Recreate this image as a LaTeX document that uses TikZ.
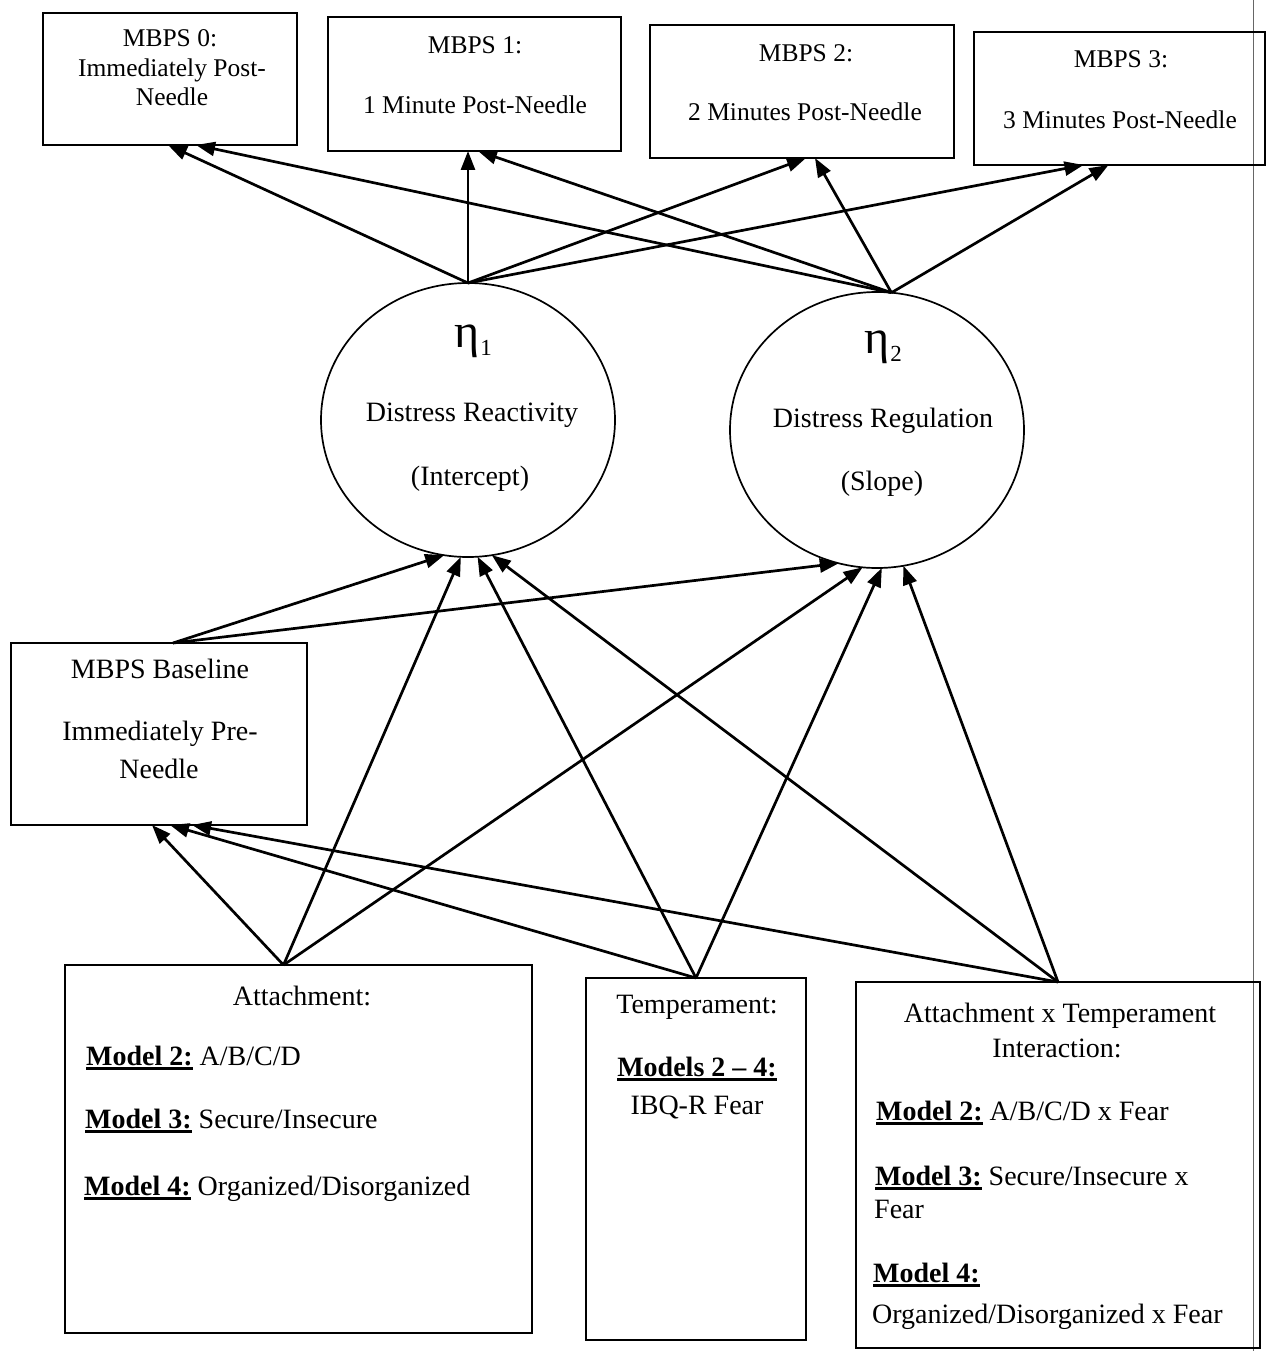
\documentclass[tikz,border=0pt]{standalone}
\usepackage{fontspec}
\setmainfont{Liberation Serif}
\usetikzlibrary{arrows.meta,calc,shapes.geometric}
\newcommand\mymodel[1]{\setbox0\hbox{\textbf{#1}}\rlap{\rule[-4.5pt]{\wd0}{2.4pt}}\box0\relax}
\newcommand\myeta[1]{{\fontsize{48}{48}\selectfont η}\kern1pt\raisebox{-8pt}{\fontsize{23}{23}\selectfont #1}}
\begin{document}
\begin{tikzpicture}[x=1pt,y=-1pt,
  box/.style={draw, line width=1.8pt, inner sep=0pt, outer sep=0pt},
  latent/.style={draw, ellipse, line width=1.7pt, inner sep=0pt, outer sep=0pt},
  small/.style={anchor=base, inner sep=0pt, font=\fontsize{25.5}{30}\selectfont},
  big/.style={anchor=base, inner sep=0pt, font=\fontsize{28}{34}\selectfont},
  bigl/.style={big, anchor=base west},
  arr/.style={line width=2.7pt, -{Triangle[length=19pt,width=14pt]}}
]
\useasboundingbox (0,0) rectangle (1269,1351);
\fill[white] (0,0) rectangle (1269,1351);
\draw[line width=0.8pt, black!60] (1253,0) -- (1253,1351);

% observed boxes
\node[box, minimum width=254pt, minimum height=132pt] (m0) at (170,79) {};
\node[box, minimum width=293pt, minimum height=134pt] (m1) at (474.5,84) {};
\node[box, minimum width=304pt, minimum height=133pt] (m2) at (802,91.5) {};
\node[box, minimum width=291pt, minimum height=133pt] (m3) at (1119.5,98.5) {};
\node[box, minimum width=296pt, minimum height=182pt] (base) at (159,734) {};
\node[box, minimum width=467pt, minimum height=368pt] (att) at (298.5,1149) {};
\node[box, minimum width=220pt, minimum height=362pt] (tmp) at (696,1159) {};
\node[box, minimum width=404pt, minimum height=366pt] (int) at (1058,1165) {};

% latent factors
\node[latent, minimum width=294pt, minimum height=274pt] (eta1) at (468,420) {};
\node[latent, minimum width=294pt, minimum height=276pt] (eta2) at (877,430) {};

% texts top boxes
\node[small] (t0a) at (170,47) {MBPS 0:};
\node[small] (t0b) at (172,77) {Immediately Post-};
\node[small] (t0c) at (172,106) {Needle};
\node[small] (t1a) at (475,54) {MBPS 1:};
\node[small] (t1b) at (475,114) {1 Minute Post-Needle};
\node[small] (t2a) at (806,62) {MBPS 2:};
\node[small] (t2b) at (805,121) {2 Minutes Post-Needle};
\node[small] (t3a) at (1121,68) {MBPS 3:};
\node[small] (t3b) at (1120,129) {3 Minutes Post-Needle};

% latent texts
\node[anchor=base, inner sep=0pt] (e1s) at (473,347) {\myeta{1}};
\node[big] (e1a) at (472,421) {Distress Reactivity};
\node[big] (e1b) at (470,485) {(Intercept)};
\node[anchor=base, inner sep=0pt] (e2s) at (883,353) {\myeta{2}};
\node[big] (e2a) at (883,427) {Distress Regulation};
\node[big] (e2b) at (882,490) {(Slope)};

% baseline
\node[big] (tba) at (160,678) {MBPS Baseline};
\node[big] (tbb) at (160,740) {Immediately Pre-};
\node[big] (tbc) at (159,778) {Needle};

% attachment
\node[big] (taa) at (302,1005) {Attachment:};
\node[bigl] (tab) at (86,1065) {\mymodel{Model 2:} A/B/C/D};
\node[bigl] (tac) at (85,1128) {\mymodel{Model 3:} Secure/Insecure};
\node[bigl] (tad) at (84,1195) {\mymodel{Model 4:} Organized/Disorganized};

% temperament
\node[big] (tta) at (697,1013) {Temperament:};
\node[big] (ttb) at (697,1076) {\mymodel{Models 2 – 4:}};
\node[big] (ttc) at (697,1114) {IBQ-R Fear};

% interaction
\node[big] (tia) at (1060,1022) {Attachment x Temperament};
\node[big] (tib) at (1057,1057) {Interaction:};
\node[bigl] (tic) at (876,1120) {\mymodel{Model 2:} A/B/C/D x Fear};
\node[bigl] (tid) at (875,1185) {\mymodel{Model 3:} Secure/Insecure x};
\node[bigl] (tie) at (874,1218) {Fear};
\node[bigl] (tif) at (873,1282) {\mymodel{Model 4:}};
\node[bigl] (tig) at (872,1323) {Organized/Disorganized x Fear};

% source coordinates
\coordinate (e1top) at (eta1.north);
\coordinate (e2top) at (eta2.84);
\coordinate (btop) at ($(base.north)+(14,0)$);
\coordinate (atop) at ($(att.north)+(-15,0)$);
\coordinate (ttop) at (tmp.north);
\coordinate (itop) at (int.north);

% loadings
\draw[arr] (e1top) -- ($(m0.south)+(-2,0)$);
\draw[arr] (e1top) -- ($(m1.south)+(-6.5,0)$);
\draw[arr] (e1top) -- ($(m2.south)+(4,0)$);
\draw[arr] (e1top) -- ($(m3.south)+(-36,0)$);
\draw[arr] (e2top) -- ($(m0.south)+(26,0)$);
\draw[arr] (e2top) -- ($(m1.south)+(3.5,0)$);
\draw[arr] (e2top) -- ($(m2.south)+(13,0)$);
\draw[arr] (e2top) -- ($(m3.south)+(-11,0)$);

% predictors to eta1
\draw[arr] (btop) -- (eta1.260.8);
\draw[arr] (atop) -- (eta1.267);
\draw[arr] (ttop) -- (eta1.274.2);
\draw[arr] (itop) -- (eta1.280.1);
% predictors to eta2
\draw[arr] (btop) -- (eta2.254.5);
\draw[arr] (atop) -- (eta2.264.6);
\draw[arr] (ttop) -- (eta2.272);
\draw[arr] (itop) -- (eta2.281.7);
% predictors to baseline
\draw[arr] (atop) -- ($(base.south)+(-7,0)$);
\draw[arr] (ttop) -- ($(base.south)+(11,0)$);
\draw[arr] (itop) -- ($(base.south)+(33,0)$);
\end{tikzpicture}
\end{document}
